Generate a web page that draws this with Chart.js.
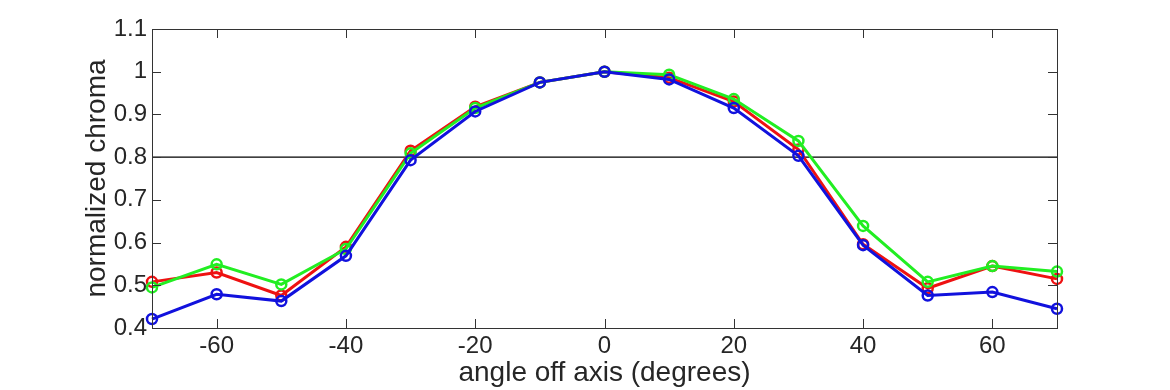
<!DOCTYPE html>
<html>
<head>
<meta charset="utf-8">
<script src="https://cdn.jsdelivr.net/npm/chart.js@4/dist/chart.umd.min.js"></script>
<style>
  html, body { margin: 0; padding: 0; background: #fff; }
  #wrap { width: 1170px; height: 390px; }
</style>
</head>
<body>
<div id="wrap"><canvas id="chromaChart" width="1170" height="390"></canvas></div>
<script>
// angle off axis (degrees)
var angles = [-70, -60, -50, -40, -30, -20, -10, 0, 10, 20, 30, 40, 50, 60, 70];
// normalized chroma per channel
var redValues   = [0.508, 0.530, 0.476, 0.590, 0.815, 0.918, 0.975, 1.0, 0.986, 0.930, 0.818, 0.596, 0.493, 0.545, 0.515];
var greenValues = [0.495, 0.549, 0.502, 0.585, 0.809, 0.915, 0.975, 1.0, 0.993, 0.936, 0.838, 0.639, 0.508, 0.545, 0.532];
var blueValues  = [0.421, 0.479, 0.463, 0.569, 0.793, 0.907, 0.975, 1.0, 0.982, 0.915, 0.803, 0.594, 0.476, 0.484, 0.445];
// reference line
var refLevel = 0.8;
// tick labels
var xTicks = [-60, -40, -20, 0, 20, 40, 60];
var yTicks = [0.4, 0.5, 0.6, 0.7, 0.8, 0.9, 1.0, 1.1];

var textColor = '#262626';
var fontFamily = '"Liberation Sans", Arial, Helvetica, sans-serif';

function toPoints(values) {
    return angles.map(function (a, i) { return { x: a, y: values[i] }; });
}

function series(label, values, color, order) {
    return {
        label: label,
        data: toPoints(values),
        borderColor: color,
        backgroundColor: 'rgba(0,0,0,0)',
        borderWidth: 3,
        pointRadius: 5,
        pointBorderWidth: 2.5,
        pointBorderColor: color,
        pointBackgroundColor: 'rgba(0,0,0,0)',
        tension: 0,
        clip: false,
        order: order
    };
}

// box + inward ticks on all four sides (matlab style)
var boxPlugin = {
    id: 'boxPlugin',
    afterDraw: function (chart) {
        var ctx = chart.ctx;
        var area = chart.chartArea;
        var xs = chart.scales.x;
        var ys = chart.scales.y;
        var len = 9;
        ctx.save();
        ctx.strokeStyle = '#333333';
        ctx.lineWidth = 1;
        ctx.strokeRect(Math.round(area.left) + 0.5, Math.round(area.top) + 0.5,
            Math.round(area.right - area.left), Math.round(area.bottom - area.top));
        ctx.beginPath();
        xTicks.forEach(function (v) {
            var px = Math.round(xs.getPixelForValue(v)) + 0.5;
            ctx.moveTo(px, area.bottom);
            ctx.lineTo(px, area.bottom - len);
            ctx.moveTo(px, area.top);
            ctx.lineTo(px, area.top + len);
        });
        yTicks.forEach(function (v) {
            var py = Math.round(ys.getPixelForValue(v)) + 0.5;
            ctx.moveTo(area.left, py);
            ctx.lineTo(area.left + len, py);
            ctx.moveTo(area.right, py);
            ctx.lineTo(area.right - len, py);
        });
        ctx.stroke();
        ctx.restore();
    }
};

var ctx = document.getElementById('chromaChart').getContext('2d');
var chromaChart = new Chart(ctx, {
    type: 'line',
    data: {
        datasets: [
            {
                label: 'reference',
                data: [{ x: angles[0], y: refLevel }, { x: angles[angles.length - 1], y: refLevel }],
                borderColor: '#000000',
                borderWidth: 1.3,
                pointRadius: 0,
                order: 10
            },
            series('red', redValues, '#ee1111', 3),
            series('green', greenValues, '#22ee22', 2),
            series('blue', blueValues, '#1111dd', 1)
        ]
    },
    options: {
        responsive: false,
        animation: false,
        events: [],
        layout: {
            padding: { left: 0, top: 29, right: 113, bottom: 0 }
        },
        plugins: {
            legend: { display: false },
            tooltip: { enabled: false }
        },
        scales: {
            x: {
                type: 'linear',
                min: -70,
                max: 70,
                grid: { display: false, drawTicks: false },
                border: { display: false },
                afterBuildTicks: function (scale) {
                    scale.ticks = xTicks.map(function (v) { return { value: v }; });
                },
                afterFit: function (scale) { scale.height = 62; },
                ticks: {
                    color: textColor,
                    padding: 4,
                    maxRotation: 0,
                    font: { family: fontFamily, size: 24 },
                    callback: function (v) { return String(v); }
                },
                title: {
                    display: true,
                    text: 'angle off axis (degrees)',
                    color: textColor,
                    padding: { top: 0, bottom: 0 },
                    font: { family: fontFamily, size: 28 }
                }
            },
            y: {
                type: 'linear',
                min: 0.4,
                max: 1.1,
                grid: { display: false, drawTicks: false },
                border: { display: false },
                afterBuildTicks: function (scale) {
                    scale.ticks = yTicks.map(function (v) { return { value: v }; });
                },
                afterFit: function (scale) { scale.width = 152; },
                ticks: {
                    color: textColor,
                    padding: 5,
                    font: { family: fontFamily, size: 24 },
                    callback: function (v) { return String(+Number(v).toFixed(1)); }
                },
                title: {
                    display: true,
                    text: 'normalized chroma',
                    color: textColor,
                    padding: { top: 80, bottom: 0 },
                    font: { family: fontFamily, size: 28 }
                }
            }
        }
    },
    plugins: [boxPlugin]
});
</script>
</body>
</html>
